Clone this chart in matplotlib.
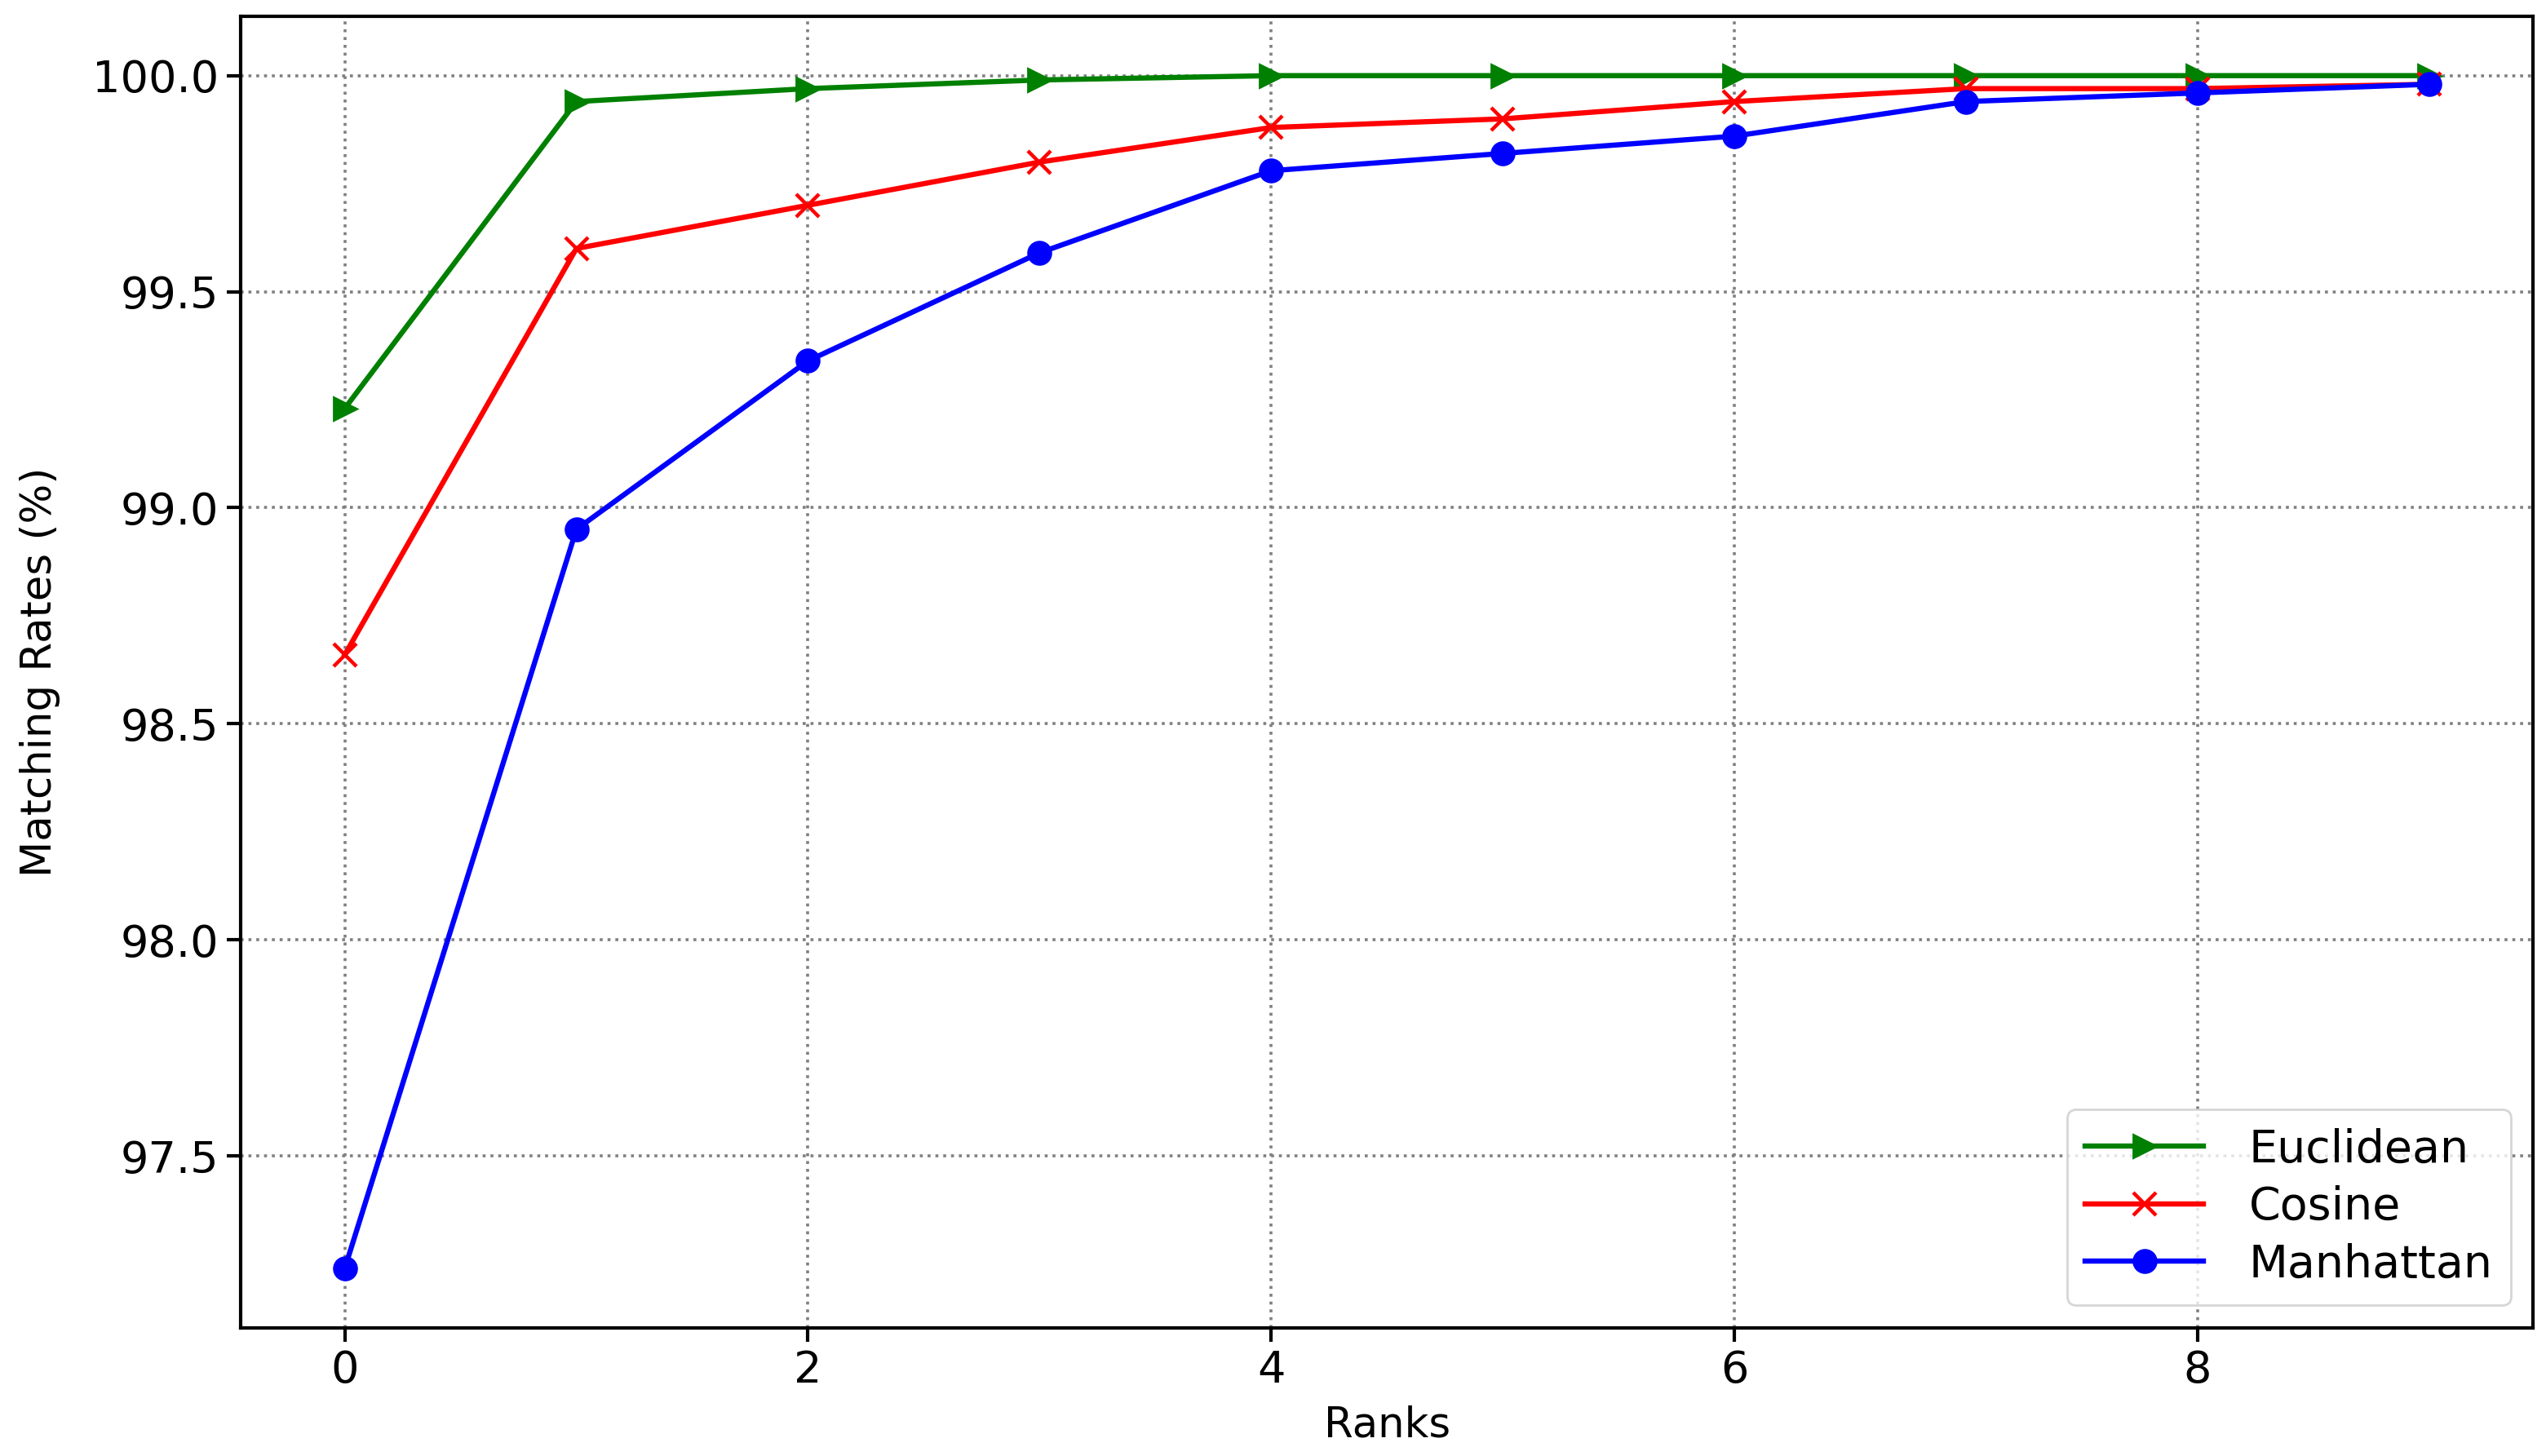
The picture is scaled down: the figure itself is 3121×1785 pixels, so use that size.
import matplotlib
matplotlib.use("Agg")
import matplotlib.pyplot as plt

ranks = list(range(10))
euclidean = [99.23, 99.94, 99.97, 99.99, 100.0, 100.0, 100.0, 100.0, 100.0, 100.0]
cosine = [98.66, 99.60, 99.70, 99.80, 99.88, 99.90, 99.94, 99.97, 99.97, 99.98]
manhattan = [97.24, 98.95, 99.34, 99.59, 99.78, 99.82, 99.86, 99.94, 99.96, 99.98]

fig = plt.figure(figsize=(15.605, 8.925), dpi=200)
ax = fig.add_axes([0.0945, 0.088, 0.9005, 0.901])

ax.plot(ranks, euclidean, color="green", marker=">", lw=2.3, ms=10, label="Euclidean")
ax.plot(ranks, cosine, color="red", marker="x", lw=2.3, ms=10, mew=1.6, label="Cosine")
ax.plot(ranks, manhattan, color="blue", marker="o", lw=2.3, ms=10, label="Manhattan")

ax.grid(True, linestyle=":", color="gray", lw=1.3)
ax.set_xlabel("Ranks", fontsize=18.5, labelpad=6)
ax.set_ylabel("Matching Rates (%)", fontsize=18.5, labelpad=14)
ax.tick_params(labelsize=19.5, width=1.5, length=6)
for s in ax.spines.values():
    s.set_linewidth(1.5)
ax.legend(loc="lower right", fontsize=20, handlelength=2.6, borderpad=0.4,
          labelspacing=0.3, handletextpad=1.0)

fig.savefig("out.png", dpi=200)
